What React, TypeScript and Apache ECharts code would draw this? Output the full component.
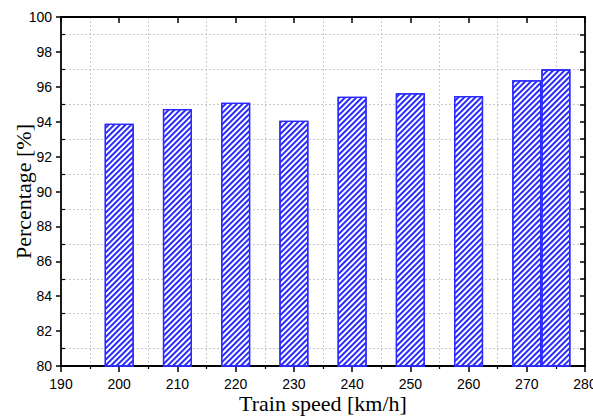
import React, { useEffect, useRef } from "react";
import * as echarts from "echarts";

const speeds = [200, 210, 220, 230, 240, 250, 260, 270, 275];
const percentages = [93.88, 94.73, 95.09, 94.06, 95.43, 95.63, 95.47, 96.38, 97.0];
const barSpan = 5; // bar width in km/h units
const xMin = 190, xMax = 280, xStep = 10;
const yMin = 80, yMax = 100, yStep = 2;

const sans = "'Liberation Sans', Arial, sans-serif";
const serif = "'Liberation Serif', 'Times New Roman', serif";

export default function App() {
  const ref = useRef<HTMLDivElement>(null);
  useEffect(() => {
    const chart = echarts.init(ref.current!, null, { renderer: "svg" });
    const grid = { left: 61, right: 8, top: 17, bottom: 50, containLabel: false, outerBoundsMode: "none" };
    const axisLine = { show: true, lineStyle: { color: "#000", width: 1.8 } };
    const build = (barWidth: number) => ({
      animation: false,
      grid,
      xAxis: [
        {
          type: "value", min: xMin, max: xMax, interval: xStep, position: "bottom",
          axisLine, axisTick: { show: true, length: 6, lineStyle: { width: 1.5, color: "#000" } },
          minorTick: { show: true, splitNumber: 2, length: 3, lineStyle: { width: 1.2, color: "#000" } },
          axisLabel: { color: "#000", fontFamily: sans, fontSize: 14, margin: 11, lineHeight: 14 },
          splitLine: { show: false },
          minorSplitLine: { show: true, lineStyle: { color: "#c8c8c8", type: [2, 2], width: 1 } },
          name: "Train speed [km/h]", nameLocation: "middle", nameGap: 27, nameMoveOverlap: false,
          nameTextStyle: { color: "#000", fontFamily: serif, fontSize: 22, lineHeight: 20 },
        },
        {
          type: "value", min: xMin, max: xMax, interval: xStep, position: "top",
          axisLine, axisTick: { show: true, inside: true, length: 6, lineStyle: { width: 1.5, color: "#000" } },
          axisLabel: { show: false }, splitLine: { show: false },
        },
      ],
      yAxis: [
        {
          type: "value", min: yMin, max: yMax, interval: yStep, position: "left",
          axisLine, axisTick: { show: true, length: 5, lineStyle: { width: 1.5, color: "#000" } },
          minorTick: { show: true, splitNumber: 2, length: -4, lineStyle: { width: 1.2, color: "#000" } },
          axisLabel: { color: "#000", fontFamily: sans, fontSize: 14, margin: 9 },
          splitLine: { show: false },
          minorSplitLine: { show: true, lineStyle: { color: "#c8c8c8", type: [2, 2], width: 1 } },
          name: "Percentage [%]", nameLocation: "middle", nameGap: 27, nameMoveOverlap: false,
          nameTextStyle: { color: "#000", fontFamily: serif, fontSize: 22 },
        },
        {
          type: "value", min: yMin, max: yMax, interval: 1, position: "right",
          axisLine, axisTick: { show: true, inside: true, length: 5, lineStyle: { width: 1.5, color: "#000" } },
          axisLabel: { show: false }, splitLine: { show: false },
        },
      ],
      series: [
        {
          type: "bar",
          xAxisIndex: 0, yAxisIndex: 0,
          data: speeds.map((s, i) => [s, percentages[i]]),
          barWidth,
          itemStyle: {
            color: "#ffffff",
            borderColor: "#2a2aff",
            borderWidth: 1.3,
            decal: {
              symbol: "rect",
              color: "#2a2aff",
              dashArrayX: [1, 0],
              dashArrayY: [1.1, 1.9],
              rotation: -Math.PI / 4,
              symbolSize: 1,
            },
          },
        },
      ],
    });
    chart.setOption(build(29) as any);
    const w =
      (chart.convertToPixel({ xAxisIndex: 0 }, xMin + barSpan) as number) -
      (chart.convertToPixel({ xAxisIndex: 0 }, xMin) as number);
    chart.setOption(build(w) as any);
    return () => chart.dispose();
  }, []);
  return <div ref={ref} style={{ width: 593, height: 416, position: "absolute", left: 0, top: 0 }} />;
}
